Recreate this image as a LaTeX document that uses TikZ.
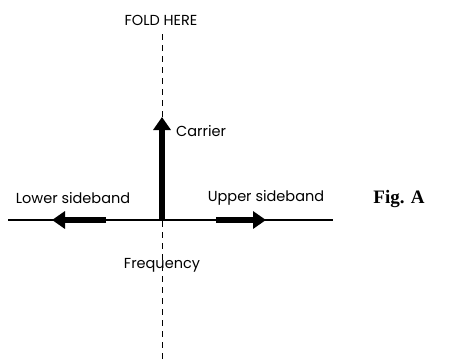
\documentclass[tikz,border=0pt]{standalone}
\usepackage{fontspec}
\setmainfont{Poppins}
\newfontfamily\figfont{Liberation Serif}
\usetikzlibrary{arrows.meta}
\tikzset{
  fold/.style={line width=0.8pt, dash pattern=on 6pt off 5pt},
  axis/.style={line width=1.1pt},
  bigarrow/.style={line width=6.5pt, -{Triangle[width=17pt,length=13pt]}},
  lbl/.style={font=\fontsize{14.5}{16}\selectfont, inner sep=0pt},
}
\begin{document}
\begin{tikzpicture}[x=1pt,y=-1pt]
\useasboundingbox (0,0) rectangle (454,359);
\coordinate (ftop) at (162,34);
\coordinate (fbot) at (162,359);
\coordinate (axl) at (8,220);
\coordinate (axr) at (333,220);
\coordinate (origin) at (162,220);
\coordinate (ctip) at (162,117);
\coordinate (lstart) at (106,220);
\coordinate (ltip) at (52,220);
\coordinate (ustart) at (216,220);
\coordinate (utip) at (266,220);
\draw[fold] (ftop) -- (fbot);
\draw[axis] (axl) -- (axr);
\draw[bigarrow] ([yshift=1pt]origin) -- (ctip);
\draw[bigarrow] (lstart) -- (ltip);
\draw[bigarrow] (ustart) -- (utip);
\node[lbl] (fold) at (161,20) {FOLD HERE};
\node[lbl, anchor=west] (carrier) at (176,131) {Carrier};
\node[lbl] (lower) at (73,198) {Lower sideband};
\node[lbl] (upper) at (266,198) {Upper sideband};
\node[lbl] (freq) at (162,265) {Frequency};
\node[inner sep=0pt, font=\figfont\bfseries\fontsize{19}{21}\selectfont] (fig) at (399,199) {Fig. A};
\end{tikzpicture}
\end{document}
